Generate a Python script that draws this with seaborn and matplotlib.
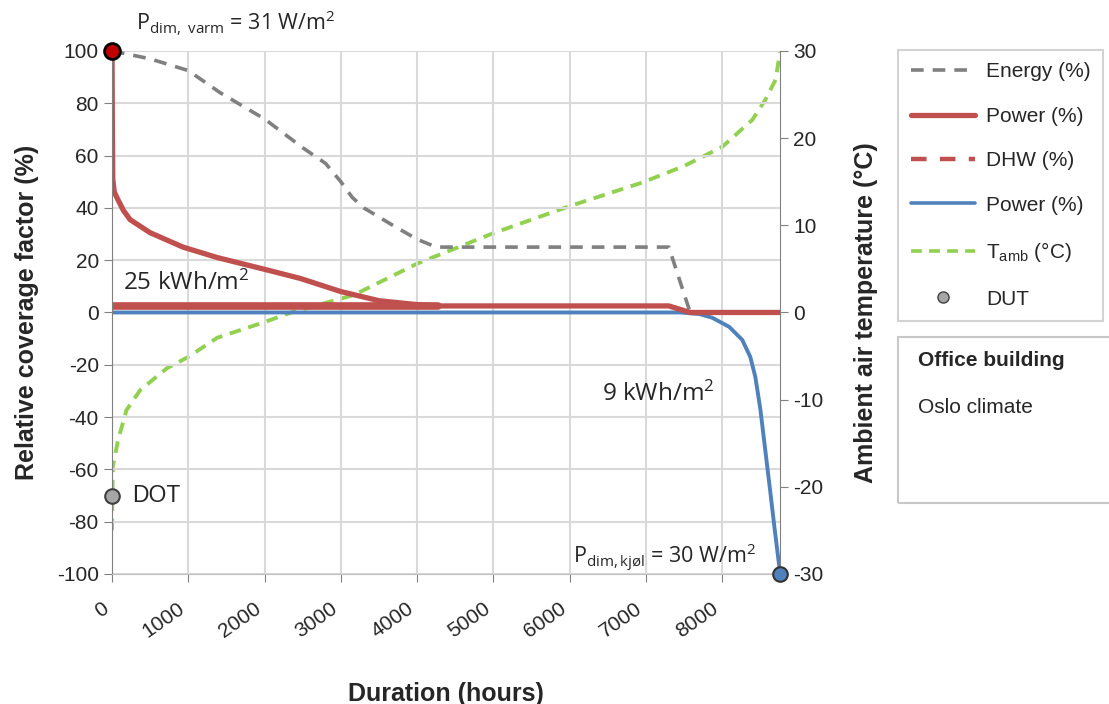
import numpy as np
import pandas as pd
import matplotlib.pyplot as plt
import seaborn as sns
from matplotlib.lines import Line2D
from matplotlib.patches import Rectangle

# Energi (%) - grå stiplet
energi_t = [0, 500, 1000, 1420, 2000, 2500, 2800, 3000, 3150, 3300, 3700, 4000, 4250, 7300, 7580, 8760]
energi = [100, 97, 92.5, 84, 74, 63, 57, 50, 44, 40, 33, 28, 25, 25, 0, 0]

# Effekt oppvarming (%) - rød
varme_t = [0, 5, 10, 30, 80, 150, 237, 500, 930, 1380, 2000, 2470, 3000, 3500, 4000, 4280,
           7300, 7580, 8760]
varme = [100, 70, 51, 46, 43, 39, 35.5, 30.5, 25, 21, 16.5, 13, 8, 4.5, 3, 2.5, 2.5, 0, 0]

# DHW (%) - rød
dhw_t = [0, 4280]
dhw = [2.4, 2.4]

# Effekt kjøling (%) - blå
kjol_t = [0, 7450, 7700, 7868, 8092, 8263, 8368, 8434, 8500, 8566, 8632, 8684, 8760]
kjol = [0, 0, -0.6, -2, -5.5, -10.5, -17, -24.6, -37, -53, -69, -82, -100]

# Utetemperatur (°C)
temp_t = [0, 10, 80, 190, 370, 720, 1000, 1380, 2000, 2350, 3170, 4000, 5000, 6000, 6950,
          7500, 8000, 8395, 8565, 8700, 8760]
temp = [-25, -17.7, -14.6, -11.2, -8.9, -6.4, -5.1, -2.9, -1.1, 0, 2, 5.6, 9.1, 12.2, 14.9,
        16.8, 19, 22.1, 24.4, 26.7, 30]

dut_t = [0, 8760]
dut = [100, -100]
dot_t = [0]
dot = [-70]

xticks = [0, 1000, 2000, 3000, 4000, 5000, 6000, 7000, 8000]

sns.set_style("whitegrid")
plt.rcParams['font.family'] = ['Liberation Sans', 'DejaVu Sans']
plt.rcParams['mathtext.default'] = 'regular'
plt.rcParams['axes.unicode_minus'] = False

fig = plt.figure(figsize=(11.09, 7.04), dpi=100)
ax = fig.add_axes([0.101, 0.1847, 0.6025, 0.7429])
ax2 = ax.twinx()

rod = '#c0504d'
bla = '#4f81bd'
gronn = '#92d050'
gra = '#808080'

sns.lineplot(x=temp_t, y=temp, ax=ax2, color=gronn, lw=2.8, linestyle=(0, (3, 2)))
sns.lineplot(x=energi_t, y=energi, ax=ax, color=gra, lw=2.6, linestyle=(0, (3.5, 2.5)))
sns.lineplot(x=kjol_t, y=kjol, ax=ax, color=bla, lw=2.8)
sns.lineplot(x=dhw_t, y=dhw, ax=ax, color=rod, lw=5.5)
sns.lineplot(x=varme_t, y=varme, ax=ax, color=rod, lw=3.8)

ax.scatter(dut_t[:1], dut[:1], s=130, color='#c00000', edgecolor='black', lw=2, zorder=10, clip_on=False)
ax.scatter(dut_t[1:], dut[1:], s=110, color=bla, edgecolor='#333333', lw=1.5, zorder=10, clip_on=False)
ax.scatter(dot_t, dot, s=110, color='#a6a6a6', edgecolor='#404040', lw=1.5, zorder=10, clip_on=False)

ax.set_xlim(0, 8760)
ax.set_ylim(-100, 100)
ax2.set_ylim(-30, 30)
ax.set_yticks(range(-100, 101, 20))
ax2.set_yticks(range(-30, 31, 10))
ax.set_xticks(xticks)
ax.set_xticklabels([str(v) for v in xticks], rotation=35, ha='right')
ax.grid(True, color='#d9d9d9', lw=1.5)
ax2.grid(False)
ax.set_zorder(ax2.get_zorder() + 1)
ax.patch.set_visible(False)
ax2.patch.set_visible(True)

for a in (ax, ax2):
    for s in a.spines.values():
        s.set_visible(False)
ax.spines['left'].set_visible(True)
ax.spines['left'].set_color('#808080')
ax2.spines['right'].set_visible(True)
ax2.spines['right'].set_color('#808080')
ax.spines['bottom'].set_visible(True)
ax.spines['bottom'].set_color('#bfbfbf')

ax.tick_params(axis='y', labelsize=15, length=6, color='#808080', labelcolor='#262626', direction='out', left=True)
ax.tick_params(axis='x', labelsize=15, length=6, color='#808080', labelcolor='#262626', pad=12, bottom=True)
ax2.tick_params(axis='y', labelsize=15, length=6, color='#808080', labelcolor='#262626', right=True)

ax.set_xlabel('Duration (hours)', fontsize=18, fontweight='bold', labelpad=29)
ax.set_ylabel('Relative coverage factor (%)', fontsize=18, fontweight='bold', labelpad=13)
ax2.set_ylabel('Ambient air temperature (°C)', fontsize=18, fontweight='bold', labelpad=22)

notat = ['Open Sans', 'DejaVu Sans']
ax.text(320, 108, 'P$_{dim,\\ varm}$ = 31 W/m$^2$', fontsize=15.5, family=notat, color='#262626', clip_on=False)
ax.text(145, 8.6, '25 kWh/m$^2$', fontsize=17.5, family=notat, color='#262626')
ax.text(6420, -34, '9 kWh/m$^2$', fontsize=17.5, family=notat, color='#262626')
ax.text(6050, -96, 'P$_{dim,kjøl}$ = 30 W/m$^2$', fontsize=15.5, family=notat, color='#262626')
ax.text(263, -70, 'DOT', fontsize=16.5, va='center', color='#262626')

handles = [
    Line2D([], [], color=gra, lw=2.6, linestyle=(0, (3.5, 2.5))),
    Line2D([], [], color=rod, lw=3.8),
    Line2D([], [], color=rod, lw=3.2, linestyle=(0, (3.5, 3))),
    Line2D([], [], color=bla, lw=2.6),
    Line2D([], [], color=gronn, lw=2.6, linestyle=(0, (3, 2))),
    Line2D([], [], color='#a6a6a6', marker='o', markeredgecolor='#404040', markersize=8, lw=0),
]
labels = ['Energy (%)', 'Power (%)', 'DHW (%)', 'Power (%)', 'T$_{amb}$ (°C)', 'DUT']
leg = fig.legend(handles, labels, loc='upper left', bbox_to_anchor=(0.81, 0.929), fontsize=15,
                 frameon=True, fancybox=False, edgecolor='#c8c8c8', handlelength=3.1,
                 handletextpad=0.5, labelspacing=1.22, borderpad=0.6, borderaxespad=0)
leg.get_frame().set_linewidth(1.5)

fig.add_artist(Rectangle((0.81, 0.2855), 0.2, 0.2355, transform=fig.transFigure,
                         fill=False, edgecolor='#c8c8c8', lw=1.5))
fig.text(0.828, 0.488, 'Office building', fontsize=15, fontweight='bold', va='center')
fig.text(0.828, 0.421, 'Oslo climate', fontsize=15, va='center')

fig.savefig('out.png', dpi=100)
